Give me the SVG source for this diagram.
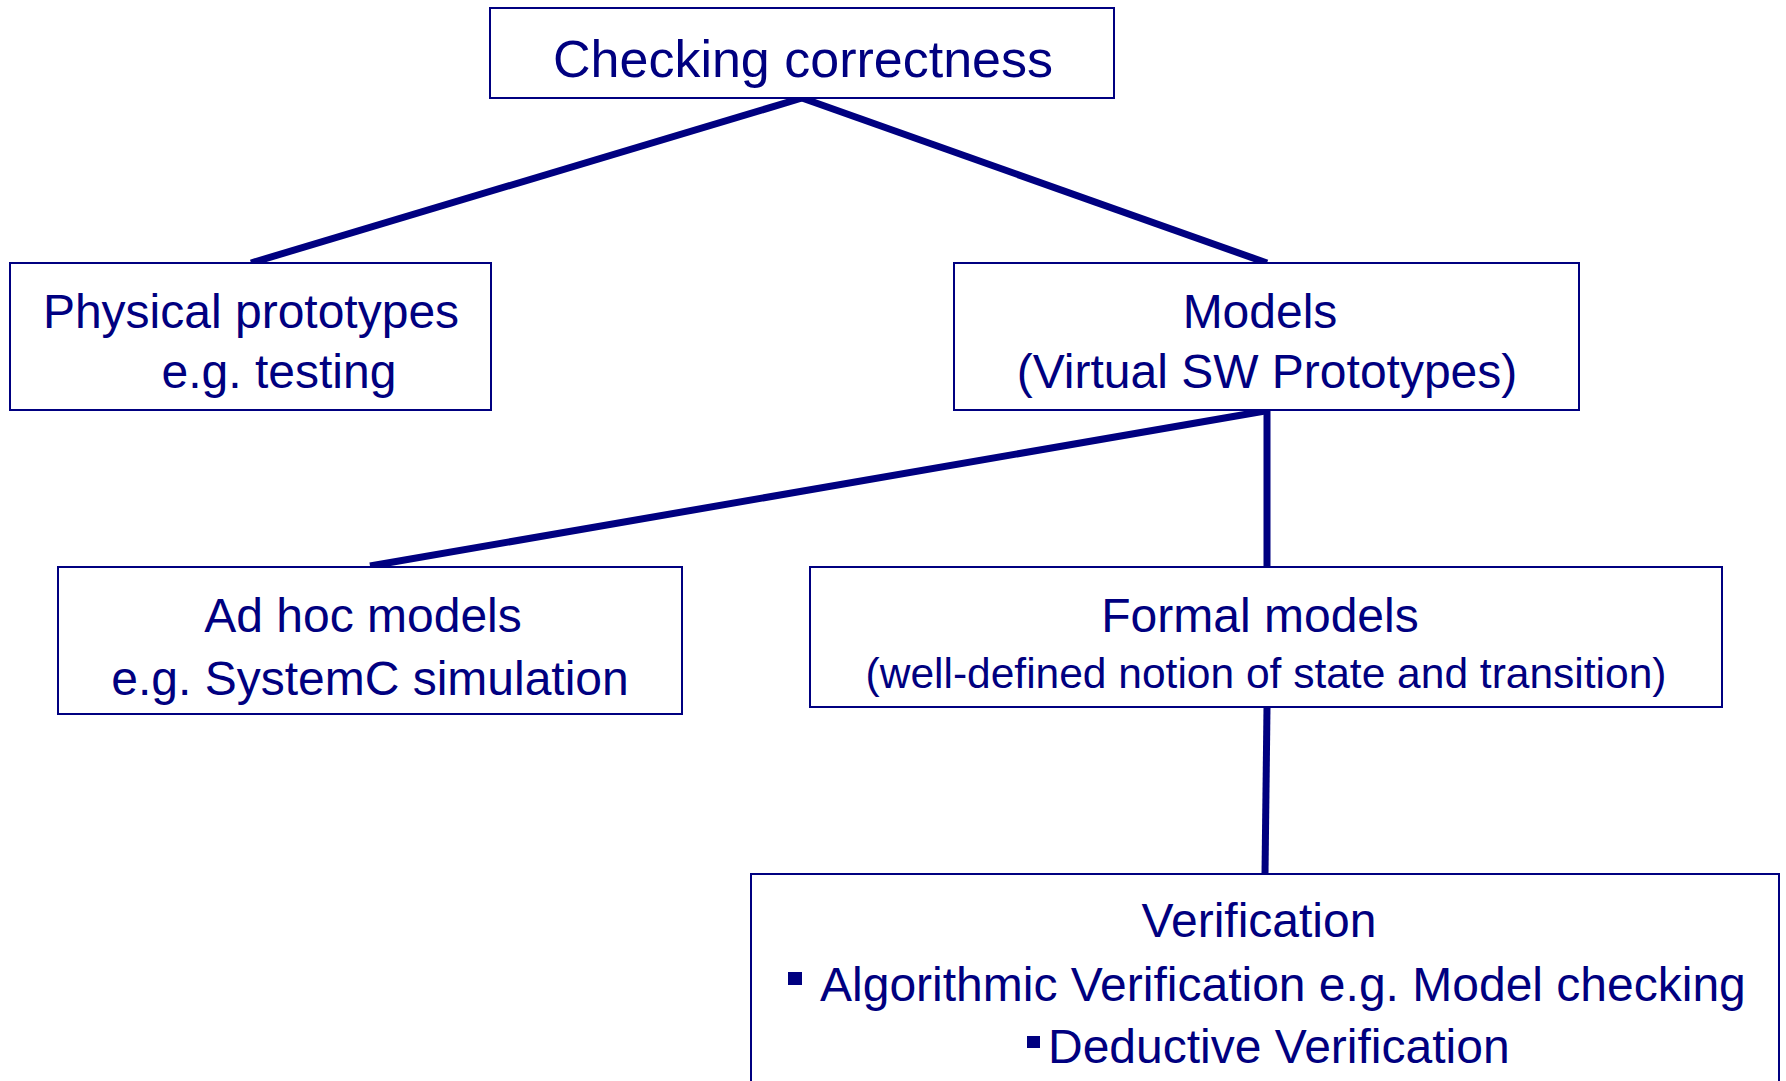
<svg xmlns="http://www.w3.org/2000/svg" width="1786" height="1081" viewBox="0 0 1786 1081">
<style>
.box{fill:#fff;stroke:#000080;stroke-width:2}
.t{font-family:"Liberation Sans",Arial,sans-serif;fill:#000080;font-size:48px;text-anchor:middle}
.s{font-size:42.5px}
.l{text-anchor:start}
.c{stroke:#000080;stroke-width:7;fill:none;stroke-linecap:butt}
.b{fill:#000080}
</style>
<rect width="1786" height="1081" fill="#fff"/>
<g id="connectors">
<line class="c" x1="802" y1="98" x2="251" y2="263"/>
<line class="c" x1="802" y1="98" x2="1267" y2="263"/>
<line class="c" x1="1265" y1="411" x2="370" y2="566"/>
<line class="c" x1="1267" y1="411" x2="1267" y2="567"/>
<line class="c" x1="1267" y1="707" x2="1265" y2="874"/>
</g>
<g id="checking">
<rect class="box" x="490" y="8" width="624" height="90"/>
<text class="t" x="803" y="77" style="font-size:52px">Checking correctness</text>
</g>
<g id="physical">
<rect class="box" x="10" y="263" width="481" height="147"/>
<text class="t" x="251" y="328">Physical prototypes</text>
<text class="t" x="279" y="388">e.g. testing</text>
</g>
<g id="models">
<rect class="box" x="954" y="263" width="625" height="147"/>
<text class="t" x="1260" y="328">Models</text>
<text class="t" x="1267" y="388">(Virtual SW Prototypes)</text>
</g>
<g id="adhoc">
<rect class="box" x="58" y="567" width="624" height="147"/>
<text class="t" x="363" y="632">Ad hoc models</text>
<text class="t" x="370" y="695">e.g. SystemC simulation</text>
</g>
<g id="formal">
<rect class="box" x="810" y="567" width="912" height="140"/>
<text class="t" x="1260" y="632">Formal models</text>
<text class="t s" x="1266" y="688">(well-defined notion of state and transition)</text>
</g>
<g id="verification">
<rect class="box" x="751" y="874" width="1028" height="220"/>
<text class="t" x="1259" y="937">Verification</text>
<rect class="b" x="788" y="972" width="14" height="13"/>
<text class="t l" x="820" y="1001">Algorithmic Verification e.g. Model checking</text>
<rect class="b" x="1027" y="1036" width="13" height="12"/>
<text class="t l" x="1048" y="1063">Deductive Verification</text>
</g>
</svg>
